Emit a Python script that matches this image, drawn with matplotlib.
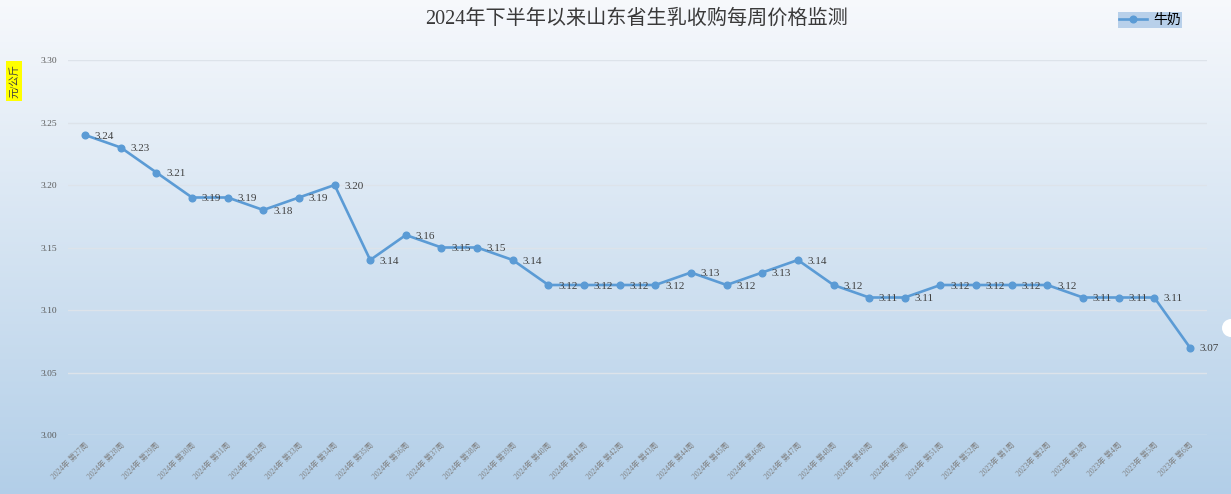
import matplotlib
matplotlib.use("Agg")
import matplotlib.pyplot as plt
from matplotlib.patches import Ellipse
import numpy as np

weeks = ["2024年 第27周", "2024年 第28周", "2024年 第29周", "2024年 第30周", "2024年 第31周",
         "2024年 第32周", "2024年 第33周", "2024年 第34周", "2024年 第35周", "2024年 第36周",
         "2024年 第37周", "2024年 第38周", "2024年 第39周", "2024年 第40周", "2024年 第41周",
         "2024年 第42周", "2024年 第43周", "2024年 第44周", "2024年 第45周", "2024年 第46周",
         "2024年 第47周", "2024年 第48周", "2024年 第49周", "2024年 第50周", "2024年 第51周",
         "2024年 第52周", "2023年 第1周", "2023年 第2周", "2023年 第3周", "2023年 第4周",
         "2023年 第5周", "2023年 第6周"]
milk = [3.24, 3.23, 3.21, 3.19, 3.19, 3.18, 3.19, 3.20, 3.14, 3.16,
        3.15, 3.15, 3.14, 3.12, 3.12, 3.12, 3.12, 3.13, 3.12, 3.13,
        3.14, 3.12, 3.11, 3.11, 3.12, 3.12, 3.12, 3.12, 3.11, 3.11,
        3.11, 3.07]
yticks = [3.00, 3.05, 3.10, 3.15, 3.20, 3.25, 3.30]

FONTS = ['Liberation Serif', 'Noto Sans CJK SC', 'DejaVu Sans']
plt.rcParams['font.family'] = FONTS

W, H = 1231, 494
fig = plt.figure(figsize=(W / 100, H / 100), dpi=100)

# gradient background
bg = fig.add_axes([0, 0, 1, 1], zorder=-10)
grad = np.linspace(0, 1, 256)[:, None]
top = np.array([0.968, 0.975, 0.988])
bot = np.array([0.70, 0.81, 0.91])
img = top[None, None, :] * (1 - grad[..., None]) + bot[None, None, :] * grad[..., None]
img = np.repeat(img, 2, axis=1)
bg.imshow(img, aspect='auto', extent=[0, 1, 0, 1], origin='upper')
bg.set_xlim(0, 1)
bg.set_ylim(0, 1)
bg.add_patch(Ellipse((1.0, 1 - 328 / H), 18 / W, 18 / H, fc='white', ec='none'))
bg.set_axis_off()

ax = fig.add_axes([68 / W, 1 - 435 / H, (1207 - 68) / W, (435 - 60) / H])
ax.patch.set_alpha(0)
x = np.arange(len(weeks))
color = '#5b9bd5'
ax.plot(x, milk, color=color, lw=1.9, marker='o', ms=4.8, label='牛奶', zorder=3)
for xi, v in zip(x, milk):
    ax.annotate(f"{v:.2f}", (xi, v), xytext=(7, -1), textcoords='offset points',
                ha='left', va='center', fontsize=8, color='#404040')

ax.set_xlim(-0.48, len(weeks) - 0.52)
ax.set_ylim(3.00, 3.30)
ax.set_yticks(yticks)
ax.set_yticklabels([f"{t:.2f}" for t in yticks], fontsize=6.8, color='#595959')
ax.set_xticks(x)
ax.set_xticklabels(weeks, rotation=45, ha='right', rotation_mode='anchor',
                   fontsize=5.6, color='#7f7f7f')
ax.tick_params(axis='both', length=0)
ax.tick_params(axis='y', pad=8)
ax.tick_params(axis='x', pad=5)
ax.grid(axis='y', color='#dde3ea', lw=1)
for s in ax.spines.values():
    s.set_visible(False)

fig.text(637 / W, 1 - 19 / H, "2024年下半年以来山东省生乳收购每周价格监测",
         ha='center', va='center', fontsize=14.5, color='#3a3a3a')

fig.text(14 / W, 1 - 81 / H, "元/公斤", rotation=90, ha='center', va='center',
         fontsize=7.5, color='#404040',
         bbox=dict(boxstyle='square,pad=0.3', fc='#ffff00', ec='none'))

leg = ax.legend(loc='center', bbox_to_anchor=(1150 / W, 1 - 20 / H),
                bbox_transform=fig.transFigure, frameon=True, fontsize=10,
                handlelength=2.0, handletextpad=0.4, borderpad=0.1,
                fancybox=False)
leg.get_frame().set_facecolor('#b8d0ea')
leg.get_frame().set_edgecolor('none')
leg.get_frame().set_alpha(1)

fig.savefig("out.png", dpi=100)
